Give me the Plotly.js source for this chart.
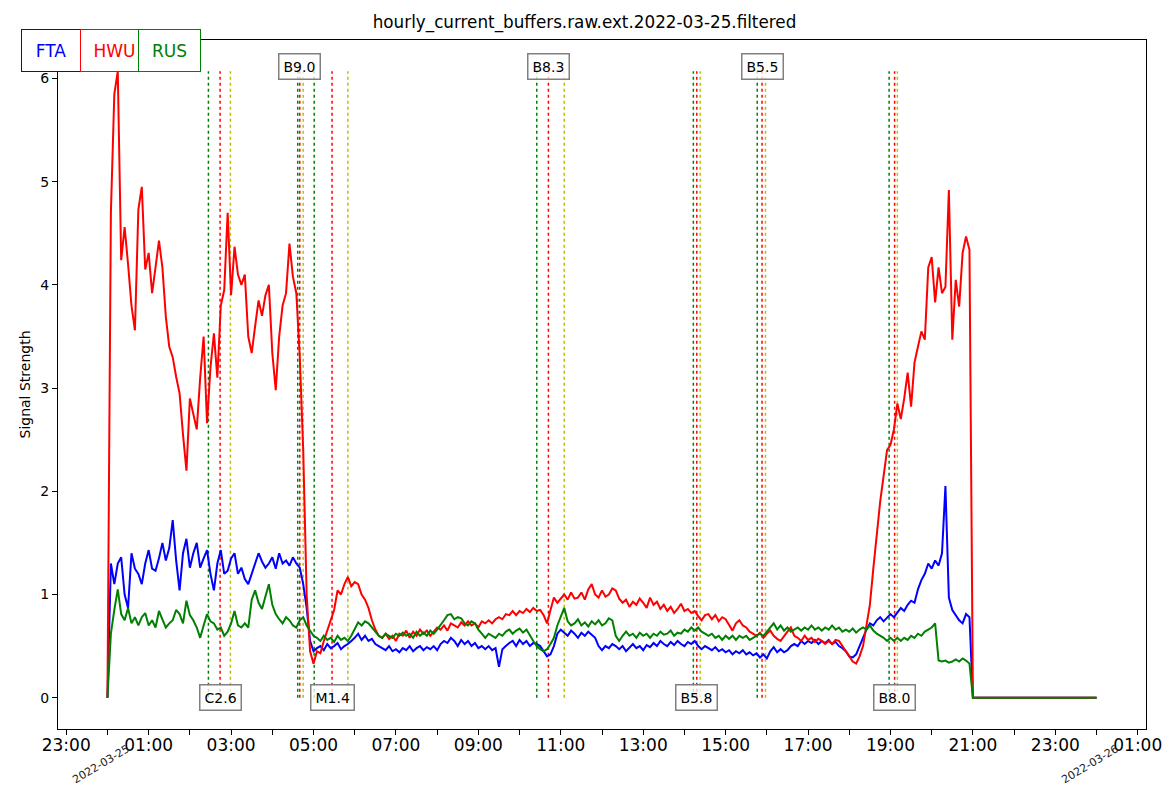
<!DOCTYPE html>
<html>
<head>
<meta charset="utf-8">
<script src="https://cdn.plot.ly/plotly-3.0.1.min.js"></script>
<style>
  html, body { margin: 0; padding: 0; background: #ffffff; }
  #chart { width: 1169px; height: 792px; }
</style>
</head>
<body>
<div id="chart"></div>
<script>
// Station names and colours
const stations = ["FTA", "HWU", "RUS"];
const stationColors = ["#0000ff", "#ff0000", "#008000"];

// Signal strength, one sample every 5 minutes from 00:00 to 21:00, then the tail at 24:00
const fta = [0, 1.3, 1.1, 1.3, 1.36, 1.0, 0.87, 1.4, 1.25, 1.2, 1.1, 1.3, 1.43, 1.25, 1.23, 1.35, 1.5, 1.33, 1.45, 1.72,
  1.33, 1.04, 1.4, 1.54, 1.26, 1.4, 1.5, 1.26, 1.35, 1.43, 1.2, 1.04, 1.3, 1.43, 1.2, 1.23, 1.35, 1.4, 1.2, 1.26,
  1.15, 1.1, 1.2, 1.3, 1.4, 1.32, 1.26, 1.3, 1.36, 1.25, 1.4, 1.3, 1.33, 1.28, 1.36, 1.3, 1.26, 1.1, 0.87, 0.55,
  0.45, 0.48, 0.5, 0.46, 0.52, 0.48, 0.5, 0.53, 0.47, 0.5, 0.52, 0.55, 0.58, 0.62, 0.56, 0.6, 0.55, 0.57, 0.52, 0.5,
  0.48, 0.46, 0.5, 0.45, 0.47, 0.44, 0.48, 0.46, 0.5, 0.45, 0.48, 0.5, 0.46, 0.49, 0.47, 0.5, 0.46, 0.52, 0.55, 0.53,
  0.58, 0.55, 0.5, 0.56, 0.52, 0.55, 0.5, 0.53, 0.48, 0.5, 0.47, 0.5, 0.46, 0.48, 0.3, 0.47, 0.5, 0.53, 0.55, 0.5,
  0.56, 0.52, 0.55, 0.5, 0.53, 0.52, 0.5, 0.45, 0.4, 0.42, 0.5, 0.62, 0.66, 0.63, 0.6, 0.65, 0.62, 0.58, 0.63, 0.6,
  0.64, 0.61, 0.58, 0.5, 0.46, 0.5, 0.48, 0.52, 0.5, 0.47, 0.5, 0.45, 0.49, 0.52, 0.48, 0.5, 0.46, 0.51, 0.49, 0.53,
  0.5, 0.55, 0.52, 0.5, 0.54, 0.51, 0.55, 0.52, 0.5, 0.54, 0.52, 0.55, 0.5, 0.47, 0.5, 0.48, 0.46, 0.49, 0.45, 0.47,
  0.44, 0.46, 0.42, 0.45, 0.43, 0.46, 0.42, 0.44, 0.41, 0.43, 0.39, 0.42, 0.38, 0.45, 0.49, 0.44, 0.47, 0.44, 0.46, 0.5,
  0.52, 0.5, 0.55, 0.52, 0.55, 0.53, 0.56, 0.52, 0.55, 0.53, 0.56, 0.52, 0.54, 0.5, 0.48, 0.45, 0.4, 0.39, 0.42, 0.5,
  0.58, 0.66, 0.72, 0.7, 0.75, 0.78, 0.74, 0.78, 0.81, 0.78, 0.83, 0.87, 0.84, 0.9, 0.94, 0.92, 1.05, 1.14, 1.2, 1.3,
  1.25, 1.33, 1.28, 1.4, 2.05, 0.97, 0.85, 0.8, 0.75, 0.72, 0.81, 0.78, 0, 0];

const hwu = [0, 4.7, 5.85, 6.07, 4.24, 4.56, 4.2, 3.8, 3.56, 4.73, 4.95, 4.15, 4.31, 3.92, 4.17, 4.43, 4.17, 3.69, 3.4, 3.3,
  3.11, 2.95, 2.55, 2.2, 2.9, 2.75, 2.6, 3.1, 3.5, 2.66, 3.2, 3.53, 3.1, 3.8, 3.95, 4.7, 3.9, 4.37, 4.1, 4.0,
  4.1, 3.5, 3.34, 3.6, 3.85, 3.7, 3.9, 4.0, 3.34, 2.98, 3.5, 3.8, 3.92, 4.4, 4.08, 3.92, 3.3, 2.4, 1.0, 0.45,
  0.33, 0.45, 0.43, 0.55, 0.65, 0.75, 0.85, 1.04, 1.0, 1.1, 1.17, 1.08, 1.12, 1.1, 1.0, 0.95, 0.87, 0.75, 0.66, 0.6,
  0.58, 0.62, 0.57, 0.6, 0.55, 0.62, 0.6, 0.65, 0.58, 0.64, 0.6, 0.66, 0.62, 0.65, 0.6, 0.64, 0.68, 0.66, 0.7, 0.65,
  0.72, 0.7, 0.68, 0.73, 0.7, 0.74, 0.7, 0.72, 0.68, 0.74, 0.72, 0.75, 0.72, 0.76, 0.78, 0.76, 0.81, 0.8, 0.84, 0.8,
  0.84, 0.82, 0.86, 0.83, 0.87, 0.84, 0.85, 0.8, 0.72, 0.85, 0.97, 0.92, 0.96, 1.0, 0.95, 1.02, 0.96, 0.97, 1.02, 0.95,
  1.05, 1.1, 1.0, 0.97, 1.04, 0.98, 1.0, 1.06, 1.04, 0.96, 0.92, 0.95, 0.88, 0.93, 0.9, 0.96, 0.92, 0.87, 0.97, 0.9,
  0.93, 0.86, 0.9, 0.84, 0.88, 0.82, 0.86, 0.91, 0.84, 0.86, 0.82, 0.84, 0.79, 0.75, 0.8, 0.81, 0.76, 0.8, 0.74, 0.78,
  0.76, 0.7, 0.65, 0.72, 0.75, 0.7, 0.68, 0.64, 0.62, 0.6, 0.63, 0.58, 0.62, 0.65, 0.6, 0.57, 0.55, 0.6, 0.64, 0.68,
  0.6, 0.58, 0.55, 0.6, 0.56, 0.58, 0.54, 0.57, 0.55, 0.52, 0.55, 0.52, 0.56, 0.55, 0.5, 0.44, 0.4, 0.35, 0.33, 0.4,
  0.5, 0.7, 0.9, 1.25, 1.6, 1.9, 2.15, 2.4, 2.45, 2.6, 2.85, 2.7, 2.9, 3.15, 2.82, 3.25, 3.4, 3.55, 3.47, 4.17,
  4.27, 3.83, 4.17, 3.92, 3.98, 4.92, 3.47, 4.05, 3.79, 4.31, 4.47, 4.34, 0, 0];

const rus = [0, 0.62, 0.85, 1.05, 0.81, 0.75, 0.87, 0.72, 0.78, 0.7, 0.78, 0.82, 0.7, 0.75, 0.68, 0.84, 0.76, 0.68, 0.72, 0.75,
  0.85, 0.81, 0.72, 0.94, 0.8, 0.75, 0.68, 0.58, 0.7, 0.81, 0.74, 0.72, 0.66, 0.68, 0.6, 0.64, 0.72, 0.84, 0.7, 0.68,
  0.72, 0.68, 0.95, 1.04, 0.92, 0.86, 0.98, 1.1, 0.9, 0.81, 0.76, 0.72, 0.78, 0.75, 0.7, 0.68, 0.75, 0.78, 0.7, 0.65,
  0.6, 0.58, 0.55, 0.6, 0.56, 0.58, 0.54, 0.6, 0.56, 0.58, 0.55, 0.6, 0.66, 0.73, 0.7, 0.74, 0.72, 0.68, 0.65, 0.6,
  0.58, 0.62, 0.6, 0.58, 0.62, 0.6, 0.63, 0.6, 0.62, 0.58, 0.64, 0.6, 0.63, 0.6, 0.65, 0.62, 0.66, 0.7, 0.75, 0.8,
  0.81, 0.76, 0.78, 0.77, 0.72, 0.7, 0.74, 0.72, 0.66, 0.62, 0.58, 0.62, 0.6, 0.58, 0.62, 0.6, 0.64, 0.66, 0.62, 0.65,
  0.67, 0.63, 0.66, 0.6, 0.55, 0.5, 0.47, 0.45, 0.47, 0.52, 0.58, 0.7, 0.78, 0.87, 0.74, 0.7, 0.72, 0.76, 0.7, 0.73,
  0.69, 0.74, 0.71, 0.75, 0.7, 0.72, 0.77, 0.75, 0.6, 0.55, 0.6, 0.64, 0.6, 0.62, 0.58, 0.63, 0.6, 0.62, 0.58, 0.62,
  0.6, 0.64, 0.61, 0.62, 0.65, 0.6, 0.63, 0.62, 0.66, 0.64, 0.68, 0.65, 0.68, 0.64, 0.62, 0.6, 0.62, 0.58, 0.6, 0.56,
  0.6, 0.57, 0.6, 0.56, 0.6, 0.58, 0.6, 0.56, 0.58, 0.6, 0.62, 0.6, 0.64, 0.68, 0.72, 0.66, 0.7, 0.65, 0.68, 0.64,
  0.66, 0.68, 0.65, 0.68, 0.66, 0.7, 0.66, 0.68, 0.65, 0.68, 0.66, 0.7, 0.66, 0.68, 0.64, 0.66, 0.64, 0.67, 0.63, 0.66,
  0.68, 0.66, 0.7, 0.65, 0.62, 0.6, 0.58, 0.55, 0.58, 0.55, 0.58, 0.55, 0.58, 0.56, 0.6, 0.58, 0.62, 0.6, 0.64, 0.66,
  0.68, 0.72, 0.36, 0.35, 0.36, 0.34, 0.35, 0.37, 0.35, 0.38, 0.36, 0.33, 0, 0];

// Flare events: start / peak / end times and GOES class
const flareStart = ["02:27", "04:37", "05:01", "10:25", "14:13", "15:46", "18:58"];
const flarePeak = ["02:44", "04:40", "05:27", "10:42", "14:18", "15:53", "19:06"];
const flareEnd = ["02:59", "04:45", "05:50", "11:05", "14:23", "15:58", "19:10"];
const flareClass = ["C2.6", "B9.0", "M1.4", "B8.3", "B5.8", "B5.5", "B8.0"];

// Date labels under the axis
const dayLabels = ["2022-03-25", "2022-03-26"];

const day = "2022-03-25 ";

// Sample times: every 5 minutes, plus the last point at midnight
function pad(n) { return (n < 10 ? "0" : "") + n; }
let times = [];
for (let i = 0; i < fta.length - 1; i++) {
    let m = i * 5;
    times.push(day + pad(Math.floor(m / 60)) + ":" + pad(m % 60));
}
times.push("2022-03-26 00:00");

// One trace per station
let series = [fta, hwu, rus];
let data = [];
for (let s = 0; s < stations.length; s++) {
    data.push({
        x: times,
        y: series[s],
        name: stations[s],
        type: "scatter",
        mode: "lines",
        line: { color: stationColors[s], width: 2 },
        showlegend: false
    });
}

// Top of the flare lines = highest value in the data
let yMax = Math.max(...fta, ...hwu, ...rus);

// Dotted vertical lines for the flares and their class labels
let shapes = [];
let annotations = [];
let lineSets = [[flareStart, "#008000"], [flarePeak, "#ff0000"], [flareEnd, "#bfbf00"]];
for (let i = 0; i < flareClass.length; i++) {
    lineSets.forEach(function (set) {
        shapes.push({
            type: "line", xref: "x", yref: "y", layer: "below",
            x0: day + set[0][i], x1: day + set[0][i], y0: 0, y1: yMax,
            line: { color: set[1], width: 1.5, dash: "dot" }
        });
    });
    let top = i % 2 === 1;
    annotations.push({
        x: day + flarePeak[i], xref: "x", xanchor: "center",
        y: top ? 6.12 : 0, yref: "y", yanchor: "middle",
        text: flareClass[i], showarrow: false,
        font: { size: 14, color: "#000000" },
        bgcolor: "rgba(255,255,255,0.75)",
        bordercolor: "#808080", borderwidth: 1.5, borderpad: 4
    });
}

// Station name boxes above the top-left corner
let boxX = [50.5, 114, 169];
let boxW = [56, 65, 59];
for (let s = 0; s < stations.length; s++) {
    annotations.push({
        x: (boxX[s] - 58) / 1088, xref: "paper", xanchor: "center",
        y: (729 - 51) / 689, yref: "paper", yanchor: "middle",
        text: stations[s], showarrow: false,
        width: boxW[s], height: 39,
        font: { size: 17, color: stationColors[s] },
        bgcolor: "#ffffff", bordercolor: stationColors[s], borderwidth: 1, borderpad: 1
    });
}

// Rotated date labels at midnight
let dayX = ["2022-03-24 23:50", "2022-03-25 23:50"];
dayLabels.forEach(function (d, i) {
    annotations.push({
        x: dayX[i], xref: "x", xanchor: "center",
        y: -0.051, yref: "paper", yanchor: "middle",
        text: d, showarrow: false, textangle: -31,
        font: { size: 11, color: "#222222" }
    });
});

let layout = {
    width: 1169,
    height: 792,
    margin: { l: 58, r: 23, t: 40, b: 63 },
    paper_bgcolor: "#ffffff",
    plot_bgcolor: "#ffffff",
    font: { family: "DejaVu Sans", color: "#000000" },
    title: {
        text: "hourly_current_buffers.raw.ext.2022-03-25.filtered",
        font: { size: 16.8 }, x: 0.5, xref: "container", y: 1 - 22 / 792, yanchor: "middle"
    },
    xaxis: {
        type: "date",
        range: ["2022-03-24 22:48", "2022-03-26 01:12"],
        tick0: "2022-03-24 23:00", dtick: 2 * 3600000, tickformat: "%H:%M",
        ticks: "outside", ticklen: 5, tickcolor: "#000000",
        tickfont: { size: 17 }, ticklabelstandoff: -4,
        minor: { tick0: "2022-03-24 23:00", dtick: 3600000, ticks: "outside", ticklen: 5, tickcolor: "#000000", showgrid: false },
        showgrid: false, zeroline: false,
        showline: true, mirror: true, linecolor: "#000000", linewidth: 1
    },
    yaxis: {
        range: [-0.3035, 6.3735],
        tickvals: [0, 1, 2, 3, 4, 5, 6],
        ticks: "outside", ticklen: 5, tickcolor: "#000000",
        tickfont: { size: 14 },
        title: { text: "Signal Strength", font: { size: 14 }, standoff: 6 },
        showgrid: false, zeroline: false,
        showline: true, mirror: true, linecolor: "#000000", linewidth: 1
    },
    shapes: shapes,
    annotations: annotations,
    showlegend: false
};

Plotly.newPlot("chart", data, layout, { displayModeBar: false, staticPlot: true });
</script>
</body>
</html>
